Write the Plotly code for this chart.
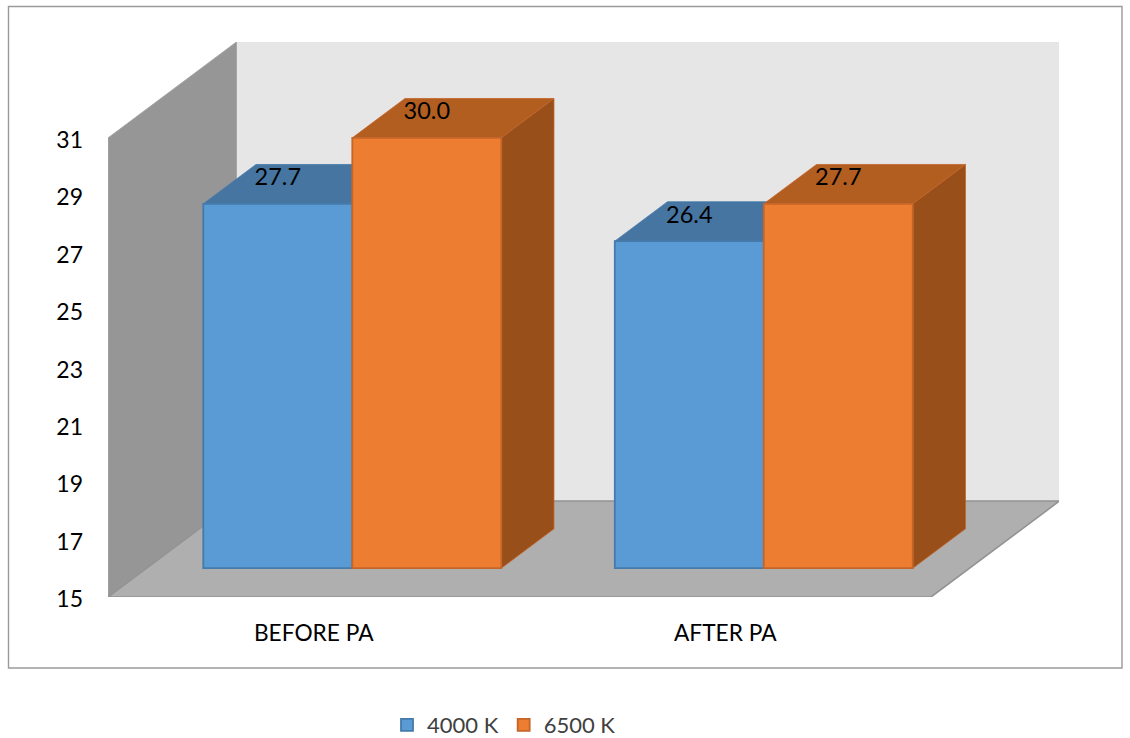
import plotly.graph_objects as go

# Chart data
categories = ["BEFORE PA", "AFTER PA"]
series_names = ["4000 K", "6500 K"]
values_4000k = [27.7, 26.4]
values_6500k = [30.0, 27.7]
y_ticks = [15, 17, 19, 21, 23, 25, 27, 29, 31]

# Page and plot geometry
WIDTH, HEIGHT = 1130, 738
LEFT, RIGHT, TOP, BOTTOM = 108, 71, 42, 141
PLOT_W = WIDTH - LEFT - RIGHT
PLOT_H = HEIGHT - TOP - BOTTOM
UNIT_PX_Y = 28.69
UNIT_PX_X = 411.5

Y_MIN, Y_MAX_TICK = 15, 31
X_MIN = -0.5
X_MAX_FRONT = 1.5

# Oblique projection: full depth of the box, in axis units
DEPTH_X = 128.5 / UNIT_PX_X
DEPTH_Y = 96 / UNIT_PX_Y
BAR_FRONT = 0.30
BAR_BACK = 0.71
BAR_WIDTH = 149 / UNIT_PX_X


def project(x, y, depth):
    return x + depth * DEPTH_X, y + depth * DEPTH_Y


def poly(points):
    return "M" + " L".join(f"{x:.5f},{y:.5f}" for x, y in points) + " Z"


def face(points, fill, edge, width=1.2):
    return dict(type="path", path=poly(points), xref="x", yref="y", layer="below",
                fillcolor=fill, line=dict(color=edge, width=width))


shapes = [
    # Outer frame of the chart
    dict(type="rect", xref="paper", yref="paper", layer="below",
         x0=(8.5 - LEFT) / PLOT_W, x1=(1122 - LEFT) / PLOT_W,
         y0=(HEIGHT - BOTTOM - 668) / PLOT_H, y1=(HEIGHT - BOTTOM - 6.5) / PLOT_H,
         line=dict(color="#9a9a9a", width=1.4), fillcolor="white"),
    # Back wall
    face([project(X_MIN, Y_MIN, 1), project(X_MAX_FRONT, Y_MIN, 1),
          project(X_MAX_FRONT, Y_MAX_TICK, 1), project(X_MIN, Y_MAX_TICK, 1)],
         "#e6e6e6", "#e6e6e6", 0.5),
    # Side wall
    face([project(X_MIN, Y_MIN, 0), project(X_MIN, Y_MIN, 1),
          project(X_MIN, Y_MAX_TICK, 1), project(X_MIN, Y_MAX_TICK, 0)],
         "#969696", "#a6a6a6", 1),
    # Floor
    face([project(X_MIN, Y_MIN, 0), project(X_MAX_FRONT, Y_MIN, 0),
          project(X_MAX_FRONT, Y_MIN, 1), project(X_MIN, Y_MIN, 1)],
         "#afafaf", "#939393", 1.6),
]

series_styles = [
    dict(values=values_4000k, front="#5b9bd5", top="#4675a1", side="#37618a",
         edge="#447bab", offset=-BAR_WIDTH),
    dict(values=values_6500k, front="#ed7d31", top="#b35e21", side="#984f1a",
         edge="#c5652a", offset=0.0),
]

fig = go.Figure()
lift = BAR_FRONT * DEPTH_Y
shift = BAR_FRONT * DEPTH_X
span = BAR_BACK - BAR_FRONT

for name, style in zip(series_names, series_styles):
    xs = [i + shift for i in range(len(categories))]
    # Front faces are real bars, standing on the raised floor line
    fig.add_trace(go.Bar(
        name=name,
        x=xs,
        y=[v - Y_MIN for v in style["values"]],
        base=[Y_MIN + lift] * len(xs),
        width=BAR_WIDTH,
        offset=style["offset"],
        marker=dict(color=style["front"], line=dict(color=style["edge"], width=1.8)),
        hoverinfo="skip",
    ))
    # Top and side faces sit behind the bars
    for x, v in zip(xs, style["values"]):
        x0 = x + style["offset"]
        x1 = x0 + BAR_WIDTH
        y0 = Y_MIN + lift
        y1 = v + lift
        shapes.append(face([(x0, y1), (x1, y1), project(x1, y1, span), project(x0, y1, span)],
                           style["top"], style["edge"], 0.8))
        shapes.append(face([(x1, y0), project(x1, y0, span), project(x1, y1, span), (x1, y1)],
                           style["side"], style["edge"], 0.8))

# Value labels resting on the top faces
label_rise = 24.5 / UNIT_PX_Y
for style in series_styles:
    xs = [i + shift + style["offset"] + BAR_WIDTH / 2 for i in range(len(categories))]
    fig.add_trace(go.Scatter(
        x=xs,
        y=[v + lift + label_rise for v in style["values"]],
        text=[f"{v:.1f}" for v in style["values"]],
        mode="text",
        textposition="middle center",
        textfont=dict(family="Lato", size=23.5, color="#000000"),
        showlegend=False,
        hoverinfo="skip",
    ))

fig.update_layout(
    width=WIDTH,
    height=HEIGHT,
    margin=dict(l=LEFT, r=RIGHT, t=TOP, b=BOTTOM, autoexpand=False),
    paper_bgcolor="white",
    plot_bgcolor="rgba(0,0,0,0)",
    barmode="overlay",
    shapes=shapes,
    font=dict(family="Lato", size=22, color="#000000"),
    xaxis=dict(
        range=[X_MIN, X_MIN + PLOT_W / UNIT_PX_X],
        tickmode="array",
        tickvals=list(range(len(categories))),
        ticktext=categories,
        showgrid=False, zeroline=False, showline=False,
        ticks="", ticklabelstandoff=20,
        tickfont=dict(family="Lato", size=22.7, color="#000000"),
    ),
    yaxis=dict(
        range=[Y_MIN, Y_MIN + PLOT_H / UNIT_PX_Y],
        tickmode="array",
        tickvals=y_ticks,
        ticktext=[str(t) for t in y_ticks],
        showgrid=False, zeroline=False, showline=False,
        ticks="", ticklabelstandoff=24, ticklabelshift=2,
        tickfont=dict(family="Lato", size=23, color="#000000"),
    ),
    legend=dict(
        orientation="h",
        xanchor="center", x=(504 - LEFT) / PLOT_W,
        yanchor="middle", yref="paper", y=(HEIGHT - BOTTOM - 725) / PLOT_H,
        font=dict(family="Lato", size=22, color="#404040"),
        bgcolor="rgba(0,0,0,0)",
        traceorder="normal",
    ),
)

fig.write_html("out.html", config=dict(displayModeBar=False))
